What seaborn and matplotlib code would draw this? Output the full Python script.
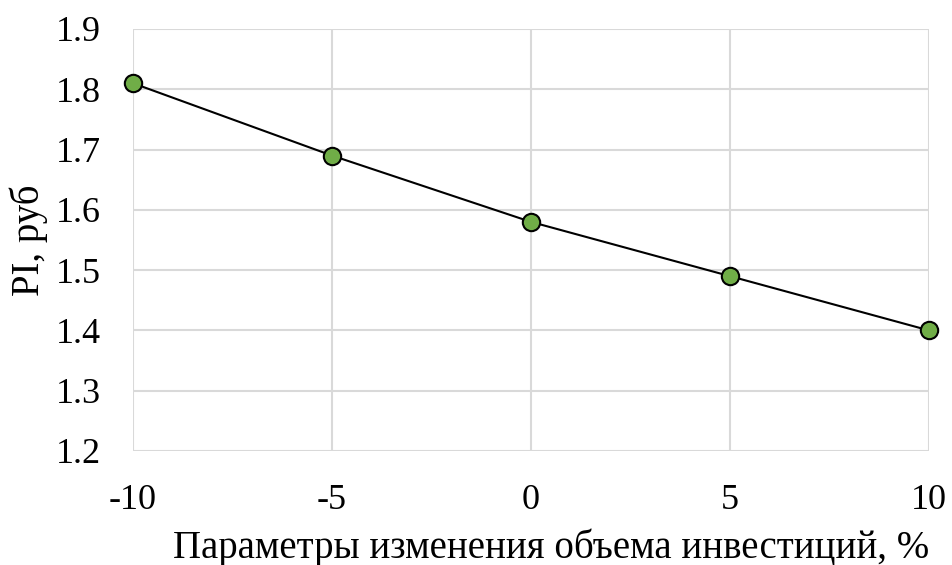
import matplotlib
matplotlib.use("Agg")
import matplotlib.pyplot as plt
import seaborn as sns
import pandas as pd

x_values = [-10, -5, 0, 5, 10]
pi_values = [1.81, 1.69, 1.58, 1.49, 1.40]
x_ticks = [-10, -5, 0, 5, 10]
y_ticks = [1.2, 1.3, 1.4, 1.5, 1.6, 1.7, 1.8, 1.9]
x_label = "Параметры изменения объема инвестиций, %"
y_label = "PI, руб"

sns.set_theme(style="white")
plt.rcParams['font.family'] = ['Liberation Serif', 'DejaVu Serif']

df = pd.DataFrame({"x": x_values, "y": pi_values})

fig = plt.figure(figsize=(9.52, 5.65), dpi=100)
ax = fig.add_axes([0.1397, 0.2018, 0.8361, 0.7469])

sns.lineplot(data=df, x="x", y="y", ax=ax, color="black", linewidth=1.5,
             marker="o", markersize=12.5, markerfacecolor="#70AD47",
             markeredgecolor="black", markeredgewidth=1.5, zorder=5, clip_on=False)

ax.set_xlim(-10, 10)
ax.set_ylim(1.2, 1.9)
ax.set_xticks(x_ticks)
ax.set_xticklabels([str(v) for v in x_ticks])
ax.set_yticks(y_ticks)
ax.set_yticklabels([f"{v:.1f}" for v in y_ticks])
ax.grid(True, color="#D9D9D9", linewidth=1.5)
for s in ax.spines.values():
    s.set_visible(False)
ax.tick_params(axis="both", length=0, labelsize=26, colors="black")
ax.tick_params(axis="y", pad=23)
ax.tick_params(axis="x", pad=24)
ax.set_xlabel(x_label, fontsize=28, labelpad=8, color="black")
ax.xaxis.label.set_x(0.525)
ax.set_ylabel(y_label, fontsize=28, labelpad=6, color="black")

fig.savefig("out.png", dpi=100)
